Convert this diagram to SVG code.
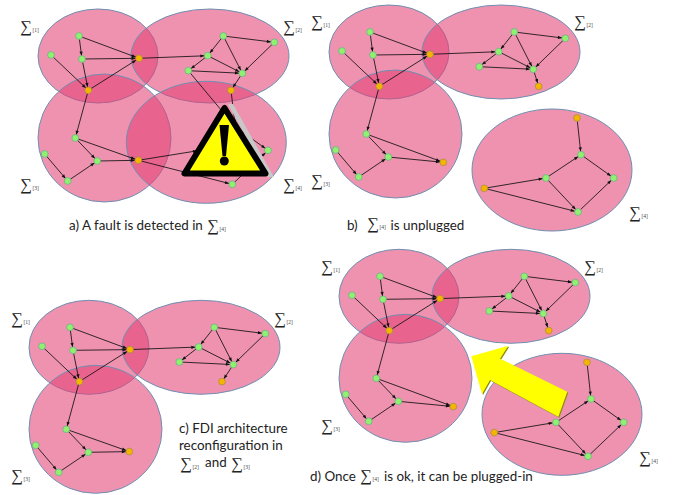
<svg xmlns="http://www.w3.org/2000/svg" width="675" height="495" viewBox="0 0 675 495">
<style>
.e{fill:#e23f74;fill-opacity:.57;stroke:#6f8fb0;stroke-width:1}
.c line{stroke:#111;stroke-width:.85;marker-end:url(#h)}
.g{fill:#90f070;stroke:#6aa88a;stroke-width:.7;r:3.4px}
.o{fill:#f5b400;stroke:#a08a50;stroke-width:.7;r:3.4px}
.s{font-family:"Liberation Serif",serif;font-size:16.5px;fill:#222}
.u{font-family:"Liberation Serif",serif;font-size:5.5px;fill:#444}
.t{font-family:Lato,"Open Sans",sans-serif;font-size:13.4px;fill:#222}
</style>
<defs>
<marker id="h" markerUnits="userSpaceOnUse" markerWidth="5" markerHeight="4" refX="7.4" refY="1.6" orient="auto" overflow="visible"><path d="M0 0L4 1.6L0 3.2Z" fill="#111"/></marker>
</defs>
<rect width="675" height="495" fill="#fff"/>

<g id="panel-a" transform="translate(-291 4)">
<g id="a-S1"><ellipse class="e" cx="389" cy="52" rx="60" ry="47"/></g>
<g id="a-S2"><ellipse class="e" cx="501" cy="52" rx="79" ry="47"/></g>
<g id="a-S3"><ellipse class="e" cx="395.5" cy="134" rx="66.5" ry="64"/></g>
<g id="a-S4"><ellipse class="e" cx="497.3" cy="138.3" rx="80" ry="61"/></g>
<g id="a-connectors" class="c">
<line x1="370" y1="32" x2="373" y2="55"/><line x1="370" y1="32" x2="430" y2="54.3"/><line x1="373" y1="55" x2="430" y2="54.3"/><line x1="373" y1="55" x2="379.3" y2="86.3"/><line x1="342" y1="51" x2="379.3" y2="86.3"/><line x1="379.3" y1="86.3" x2="430" y2="54.3"/><line x1="379.3" y1="86.3" x2="366.3" y2="134"/><line x1="430" y1="54.3" x2="498.7" y2="51.7"/>
<line x1="514.3" y1="32" x2="565.3" y2="38.3"/><line x1="514.3" y1="32" x2="498.7" y2="51.7"/><line x1="514.3" y1="32" x2="533.3" y2="69.3"/><line x1="565.3" y1="38.3" x2="533.3" y2="69.3"/><line x1="498.7" y1="51.7" x2="479.3" y2="66.7"/><line x1="498.7" y1="51.7" x2="533.3" y2="69.3"/><line x1="479.3" y1="66.7" x2="533.3" y2="69.3"/><line x1="533.3" y1="69.3" x2="522" y2="86.3"/>
<line x1="366.3" y1="134" x2="388.3" y2="157"/><line x1="366.3" y1="134" x2="429.3" y2="156.3"/><line x1="335.7" y1="150" x2="358.7" y2="177"/><line x1="358.7" y1="177" x2="388.3" y2="157"/><line x1="388.3" y1="157" x2="429.3" y2="156.3"/>
<line x1="522" y1="86.3" x2="526.3" y2="123"/><line x1="479.3" y1="66.7" x2="526.3" y2="123"/><line x1="526.3" y1="123" x2="559" y2="146.3"/><line x1="523.3" y1="180.3" x2="559" y2="146.3"/><line x1="429.3" y1="156.3" x2="491.3" y2="146.3"/><line x1="429.3" y1="156.3" x2="523.3" y2="180.3"/>
</g>
<g id="a-n1"><circle class="g" cx="370" cy="32" r="3.4"/></g><g id="a-n2"><circle class="g" cx="342" cy="51" r="3.4"/></g><g id="a-n3"><circle class="g" cx="373" cy="55" r="3.4"/></g><g id="a-n4"><circle class="o" cx="430" cy="54.3" r="3.4"/></g><g id="a-n5"><circle class="o" cx="379.3" cy="86.3" r="3.4"/></g>
<g id="a-n6"><circle class="g" cx="514.3" cy="32" r="3.4"/></g><g id="a-n7"><circle class="g" cx="565.3" cy="38.3" r="3.4"/></g><g id="a-n8"><circle class="g" cx="498.7" cy="51.7" r="3.4"/></g><g id="a-n9"><circle class="g" cx="479.3" cy="66.7" r="3.4"/></g><g id="a-n10"><circle class="g" cx="533.3" cy="69.3" r="3.4"/></g><g id="a-n11"><circle class="o" cx="522" cy="86.3" r="3.4"/></g>
<g id="a-n12"><circle class="g" cx="366.3" cy="134" r="3.4"/></g><g id="a-n13"><circle class="g" cx="335.7" cy="150" r="3.4"/></g><g id="a-n14"><circle class="g" cx="388.3" cy="157" r="3.4"/></g><g id="a-n15"><circle class="g" cx="358.7" cy="177" r="3.4"/></g><g id="a-n16"><circle class="o" cx="429.3" cy="156.3" r="3.4"/></g>
<g id="a-n17"><circle class="g" cx="559" cy="146.3" r="3.4"/></g><g id="a-n18"><circle class="g" cx="523.3" cy="180.3" r="3.4"/></g>
</g>
<g id="a-warning">
<polygon points="228,104 233,104 274,177.3 268,177.3" fill="#c8c8c8"/>
<polygon points="224.5,108 184.5,173.5 265.5,173.5" fill="#ff0" stroke="#000" stroke-width="6" stroke-linejoin="round"/>
<polygon points="219.5,125 229,125 226,156 222.5,156" fill="#000"/>
<circle cx="224.3" cy="161" r="4.5" fill="#000"/>
</g>

<g id="panel-b">
<g id="b-S1"><ellipse class="e" cx="389" cy="52" rx="60" ry="47"/></g>
<g id="b-S2"><ellipse class="e" cx="501" cy="52" rx="79" ry="47"/></g>
<g id="b-S3"><ellipse class="e" cx="395.5" cy="134" rx="66.5" ry="64"/></g>
<g id="b-S4"><ellipse class="e" cx="552" cy="170" rx="80" ry="61"/></g>
<g id="b-connectors" class="c">
<line x1="370" y1="32" x2="373" y2="55"/><line x1="370" y1="32" x2="430" y2="54.3"/><line x1="373" y1="55" x2="430" y2="54.3"/><line x1="373" y1="55" x2="379.3" y2="86.3"/><line x1="342" y1="51" x2="379.3" y2="86.3"/><line x1="379.3" y1="86.3" x2="430" y2="54.3"/><line x1="379.3" y1="86.3" x2="366.3" y2="134"/><line x1="430" y1="54.3" x2="498.7" y2="51.7"/>
<line x1="514.3" y1="32" x2="565.3" y2="38.3"/><line x1="514.3" y1="32" x2="498.7" y2="51.7"/><line x1="514.3" y1="32" x2="533.3" y2="69.3"/><line x1="565.3" y1="38.3" x2="533.3" y2="69.3"/><line x1="498.7" y1="51.7" x2="479.3" y2="66.7"/><line x1="498.7" y1="51.7" x2="533.3" y2="69.3"/><line x1="479.3" y1="66.7" x2="533.3" y2="69.3"/><line x1="533.3" y1="69.3" x2="538.7" y2="86.3"/>
<line x1="366.3" y1="134" x2="388.3" y2="157"/><line x1="366.3" y1="134" x2="443.3" y2="162.3"/><line x1="335.7" y1="150" x2="358.7" y2="177"/><line x1="358.7" y1="177" x2="388.3" y2="157"/><line x1="388.3" y1="157" x2="443.3" y2="162.3"/>
<line x1="577" y1="118" x2="581" y2="154.7"/><line x1="546" y1="178" x2="581" y2="154.7"/><line x1="581" y1="154.7" x2="613.7" y2="178"/><line x1="578" y1="212" x2="613.7" y2="178"/><line x1="546" y1="178" x2="578" y2="212"/><line x1="484.3" y1="188.3" x2="546" y2="178"/><line x1="484.3" y1="188.3" x2="578" y2="212"/>
</g>
<g id="b-n1"><circle class="g" cx="370" cy="32" r="3.4"/></g><g id="b-n2"><circle class="g" cx="342" cy="51" r="3.4"/></g><g id="b-n3"><circle class="g" cx="373" cy="55" r="3.4"/></g><g id="b-n4"><circle class="o" cx="430" cy="54.3" r="3.4"/></g><g id="b-n5"><circle class="o" cx="379.3" cy="86.3" r="3.4"/></g>
<g id="b-n6"><circle class="g" cx="514.3" cy="32" r="3.4"/></g><g id="b-n7"><circle class="g" cx="565.3" cy="38.3" r="3.4"/></g><g id="b-n8"><circle class="g" cx="498.7" cy="51.7" r="3.4"/></g><g id="b-n9"><circle class="g" cx="479.3" cy="66.7" r="3.4"/></g><g id="b-n10"><circle class="g" cx="533.3" cy="69.3" r="3.4"/></g><g id="b-n11"><circle class="o" cx="538.7" cy="86.3" r="3.4"/></g>
<g id="b-n12"><circle class="g" cx="366.3" cy="134" r="3.4"/></g><g id="b-n13"><circle class="g" cx="335.7" cy="150" r="3.4"/></g><g id="b-n14"><circle class="g" cx="388.3" cy="157" r="3.4"/></g><g id="b-n15"><circle class="g" cx="358.7" cy="177" r="3.4"/></g><g id="b-n16"><circle class="o" cx="443.3" cy="162.3" r="3.4"/></g>
<g id="b-n17"><circle class="o" cx="577" cy="118" r="3.4"/></g><g id="b-n18"><circle class="g" cx="581" cy="154.7" r="3.4"/></g><g id="b-n19"><circle class="g" cx="613.7" cy="178" r="3.4"/></g><g id="b-n20"><circle class="g" cx="546" cy="178" r="3.4"/></g><g id="b-n21"><circle class="o" cx="484.3" cy="188.3" r="3.4"/></g><g id="b-n22"><circle class="g" cx="578" cy="212" r="3.4"/></g>
</g>

<g id="panel-c" transform="translate(-300 295.3)">
<g id="c-S1"><ellipse class="e" cx="389" cy="52" rx="60" ry="47"/></g>
<g id="c-S2"><ellipse class="e" cx="501" cy="52" rx="79" ry="47"/></g>
<g id="c-S3"><ellipse class="e" cx="395.5" cy="134" rx="66.5" ry="64"/></g>
<g id="c-connectors" class="c">
<line x1="370" y1="32" x2="373" y2="55"/><line x1="370" y1="32" x2="430" y2="54.3"/><line x1="373" y1="55" x2="430" y2="54.3"/><line x1="373" y1="55" x2="379.3" y2="86.3"/><line x1="342" y1="51" x2="379.3" y2="86.3"/><line x1="379.3" y1="86.3" x2="430" y2="54.3"/><line x1="379.3" y1="86.3" x2="366.3" y2="134"/><line x1="430" y1="54.3" x2="498.7" y2="51.7"/>
<line x1="514.3" y1="32" x2="565.3" y2="38.3"/><line x1="514.3" y1="32" x2="498.7" y2="51.7"/><line x1="514.3" y1="32" x2="533.3" y2="69.3"/><line x1="565.3" y1="38.3" x2="533.3" y2="69.3"/><line x1="498.7" y1="51.7" x2="479.3" y2="66.7"/><line x1="498.7" y1="51.7" x2="533.3" y2="69.3"/><line x1="479.3" y1="66.7" x2="533.3" y2="69.3"/><line x1="533.3" y1="69.3" x2="522" y2="86.3"/>
<line x1="366.3" y1="134" x2="388.3" y2="157"/><line x1="366.3" y1="134" x2="429.3" y2="156.3"/><line x1="335.7" y1="150" x2="358.7" y2="177"/><line x1="358.7" y1="177" x2="388.3" y2="157"/><line x1="388.3" y1="157" x2="429.3" y2="156.3"/>
</g>
<g id="c-n1"><circle class="g" cx="370" cy="32" r="3.4"/></g><g id="c-n2"><circle class="g" cx="342" cy="51" r="3.4"/></g><g id="c-n3"><circle class="g" cx="373" cy="55" r="3.4"/></g><g id="c-n4"><circle class="o" cx="430" cy="54.3" r="3.4"/></g><g id="c-n5"><circle class="o" cx="379.3" cy="86.3" r="3.4"/></g>
<g id="c-n6"><circle class="g" cx="514.3" cy="32" r="3.4"/></g><g id="c-n7"><circle class="g" cx="565.3" cy="38.3" r="3.4"/></g><g id="c-n8"><circle class="g" cx="498.7" cy="51.7" r="3.4"/></g><g id="c-n9"><circle class="g" cx="479.3" cy="66.7" r="3.4"/></g><g id="c-n10"><circle class="g" cx="533.3" cy="69.3" r="3.4"/></g><g id="c-n11"><circle class="o" cx="522" cy="86.3" r="3.4"/></g>
<g id="c-n12"><circle class="g" cx="366.3" cy="134" r="3.4"/></g><g id="c-n13"><circle class="g" cx="335.7" cy="150" r="3.4"/></g><g id="c-n14"><circle class="g" cx="388.3" cy="157" r="3.4"/></g><g id="c-n15"><circle class="g" cx="358.7" cy="177" r="3.4"/></g><g id="c-n16"><circle class="o" cx="429.3" cy="156.3" r="3.4"/></g>
</g>

<g id="panel-d" transform="translate(10 244.3)">
<g id="d-S1"><ellipse class="e" cx="389" cy="52" rx="60" ry="47"/></g>
<g id="d-S2"><ellipse class="e" cx="501" cy="52" rx="79" ry="47"/></g>
<g id="d-S3"><ellipse class="e" cx="395.5" cy="134" rx="66.5" ry="64"/></g>
<g id="d-S4"><ellipse class="e" cx="552" cy="170" rx="80" ry="61"/></g>
<g id="d-connectors" class="c">
<line x1="370" y1="32" x2="373" y2="55"/><line x1="370" y1="32" x2="430" y2="54.3"/><line x1="373" y1="55" x2="430" y2="54.3"/><line x1="373" y1="55" x2="379.3" y2="86.3"/><line x1="342" y1="51" x2="379.3" y2="86.3"/><line x1="379.3" y1="86.3" x2="430" y2="54.3"/><line x1="379.3" y1="86.3" x2="366.3" y2="134"/><line x1="430" y1="54.3" x2="498.7" y2="51.7"/>
<line x1="514.3" y1="32" x2="565.3" y2="38.3"/><line x1="514.3" y1="32" x2="498.7" y2="51.7"/><line x1="514.3" y1="32" x2="533.3" y2="69.3"/><line x1="565.3" y1="38.3" x2="533.3" y2="69.3"/><line x1="498.7" y1="51.7" x2="479.3" y2="66.7"/><line x1="498.7" y1="51.7" x2="533.3" y2="69.3"/><line x1="479.3" y1="66.7" x2="533.3" y2="69.3"/><line x1="533.3" y1="69.3" x2="538.7" y2="86.3"/>
<line x1="366.3" y1="134" x2="388.3" y2="157"/><line x1="366.3" y1="134" x2="443.3" y2="162.3"/><line x1="335.7" y1="150" x2="358.7" y2="177"/><line x1="358.7" y1="177" x2="388.3" y2="157"/><line x1="388.3" y1="157" x2="443.3" y2="162.3"/>
<line x1="577" y1="118" x2="581" y2="154.7"/><line x1="546" y1="178" x2="581" y2="154.7"/><line x1="581" y1="154.7" x2="613.7" y2="178"/><line x1="578" y1="212" x2="613.7" y2="178"/><line x1="546" y1="178" x2="578" y2="212"/><line x1="484.3" y1="188.3" x2="546" y2="178"/><line x1="484.3" y1="188.3" x2="578" y2="212"/>
</g>
<g id="d-n1"><circle class="g" cx="370" cy="32" r="3.4"/></g><g id="d-n2"><circle class="g" cx="342" cy="51" r="3.4"/></g><g id="d-n3"><circle class="g" cx="373" cy="55" r="3.4"/></g><g id="d-n4"><circle class="o" cx="430" cy="54.3" r="3.4"/></g><g id="d-n5"><circle class="o" cx="379.3" cy="86.3" r="3.4"/></g>
<g id="d-n6"><circle class="g" cx="514.3" cy="32" r="3.4"/></g><g id="d-n7"><circle class="g" cx="565.3" cy="38.3" r="3.4"/></g><g id="d-n8"><circle class="g" cx="498.7" cy="51.7" r="3.4"/></g><g id="d-n9"><circle class="g" cx="479.3" cy="66.7" r="3.4"/></g><g id="d-n10"><circle class="g" cx="533.3" cy="69.3" r="3.4"/></g><g id="d-n11"><circle class="o" cx="538.7" cy="86.3" r="3.4"/></g>
<g id="d-n12"><circle class="g" cx="366.3" cy="134" r="3.4"/></g><g id="d-n13"><circle class="g" cx="335.7" cy="150" r="3.4"/></g><g id="d-n14"><circle class="g" cx="388.3" cy="157" r="3.4"/></g><g id="d-n15"><circle class="g" cx="358.7" cy="177" r="3.4"/></g><g id="d-n16"><circle class="o" cx="443.3" cy="162.3" r="3.4"/></g>
<g id="d-n17"><circle class="o" cx="577" cy="118" r="3.4"/></g><g id="d-n18"><circle class="g" cx="581" cy="154.7" r="3.4"/></g><g id="d-n19"><circle class="g" cx="613.7" cy="178" r="3.4"/></g><g id="d-n20"><circle class="g" cx="546" cy="178" r="3.4"/></g><g id="d-n21"><circle class="o" cx="484.3" cy="188.3" r="3.4"/></g><g id="d-n22"><circle class="g" cx="578" cy="212" r="3.4"/></g>
</g>
<g id="d-arrow">
<polygon points="472.3,357 509.3,346.7 501,359.7 568.3,392.7 559.3,417.7 491,381 483,395" fill="#8c8c14"/>
<polygon points="471.3,356.3 508.3,345.7 500,358.7 567.3,391.7 558.3,416.7 490,380 482,394" fill="#ff0"/>
</g>

<g id="labels">
<g transform="translate(20 32)"><text class="s">∑</text><text class="u" x="12.5" y="0">[1]</text></g>
<g transform="translate(283 32)"><text class="s">∑</text><text class="u" x="12.5" y="0">[2]</text></g>
<g transform="translate(20 190)"><text class="s">∑</text><text class="u" x="12.5" y="0">[3]</text></g>
<g transform="translate(283 190)"><text class="s">∑</text><text class="u" x="12.5" y="0">[4]</text></g>
<text class="t" x="69" y="230">a) A fault is detected in</text>
<g transform="translate(207 231)"><text class="s">∑</text><text class="u" x="12.5" y="0">[4]</text></g>

<g transform="translate(311 27)"><text class="s">∑</text><text class="u" x="12.5" y="0">[1]</text></g>
<g transform="translate(574 27)"><text class="s">∑</text><text class="u" x="12.5" y="0">[2]</text></g>
<g transform="translate(311 186)"><text class="s">∑</text><text class="u" x="12.5" y="0">[3]</text></g>
<g transform="translate(629 218)"><text class="s">∑</text><text class="u" x="12.5" y="0">[4]</text></g>
<text class="t" x="347" y="230">b)</text>
<g transform="translate(367 229)"><text class="s">∑</text><text class="u" x="12.5" y="0">[4]</text></g>
<text class="t" x="390.5" y="230">is unplugged</text>

<g transform="translate(11 324)"><text class="s">∑</text><text class="u" x="12.5" y="0">[1]</text></g>
<g transform="translate(274 324)"><text class="s">∑</text><text class="u" x="12.5" y="0">[2]</text></g>
<g transform="translate(11 481)"><text class="s">∑</text><text class="u" x="12.5" y="0">[3]</text></g>
<text class="t" x="179" y="433">c) FDI architecture</text>
<text class="t" x="179" y="450">reconfiguration in</text>
<g transform="translate(180 469)"><text class="s">∑</text><text class="u" x="12.5" y="0">[2]</text></g>
<text class="t" x="205" y="467">and</text>
<g transform="translate(231 469)"><text class="s">∑</text><text class="u" x="12.5" y="0">[3]</text></g>

<g transform="translate(321 272)"><text class="s">∑</text><text class="u" x="12.5" y="0">[1]</text></g>
<g transform="translate(584 272)"><text class="s">∑</text><text class="u" x="12.5" y="0">[2]</text></g>
<g transform="translate(321 431)"><text class="s">∑</text><text class="u" x="12.5" y="0">[3]</text></g>
<g transform="translate(639 463)"><text class="s">∑</text><text class="u" x="12.5" y="0">[4]</text></g>
<text class="t" x="310" y="481">d) Once</text>
<g transform="translate(360 481)"><text class="s">∑</text><text class="u" x="12.5" y="0">[4]</text></g>
<text class="t" x="384" y="481">is ok, it can be plugged-in</text>
</g>
</svg>
